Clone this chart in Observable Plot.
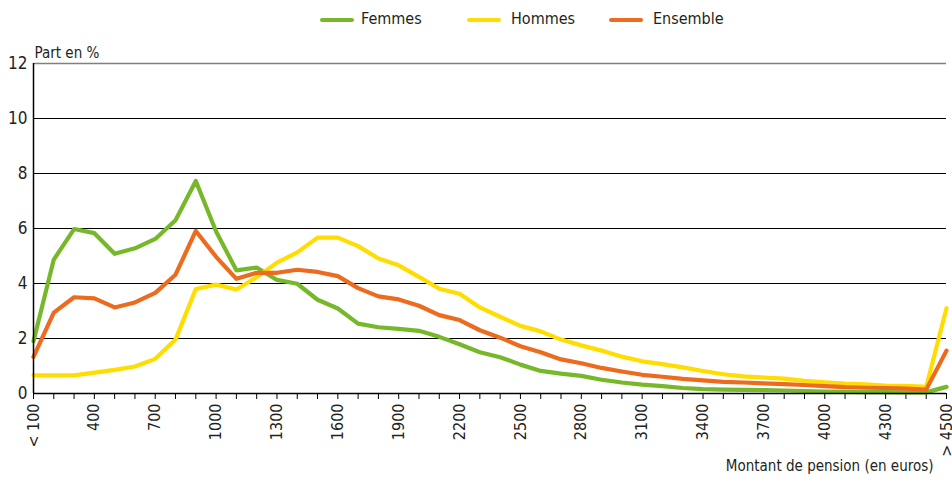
<!DOCTYPE html>
<html>
<head>
<meta charset="utf-8">
<script src="https://cdn.jsdelivr.net/npm/d3@7"></script>
<script src="https://cdn.jsdelivr.net/npm/@observablehq/plot@0.6"></script>
<style>
  body { margin: 0; background: #fff; font-family: 'DejaVu Sans Condensed', 'DejaVu Sans', sans-serif; font-stretch: condensed; color: #231f20; }
  #wrap { position: relative; width: 952px; height: 481px; }
  #legend { position: relative; height: 40px; width: 952px; }
  .sw { position: absolute; top: 18px; width: 34px; height: 4px; border-radius: 2px; }
  .lt { position: absolute; top: 9px; font-size: 16px; line-height: 20px; }
  svg text { font-stretch: condensed; }
</style>
</head>
<body>
<div id="wrap">
  <div id="legend"></div>
  <div id="chart"></div>
</div>
<script>
const categories = ["< 100"].concat(d3.range(2, 46).map(i => String(i * 100))).concat(["> 4500"]);
const femmes = [1.90,4.87,5.98,5.83,5.08,5.28,5.62,6.30,7.73,5.89,4.48,4.58,4.13,3.99,3.41,3.09,2.54,2.41,2.35,2.28,2.06,1.79,1.50,1.32,1.05,0.82,0.72,0.64,0.50,0.40,0.32,0.27,0.20,0.16,0.14,0.13,0.12,0.11,0.09,0.07,0.06,0.05,0.05,0.04,0.04,0.24];
const hommes = [0.66,0.66,0.66,0.76,0.86,0.98,1.26,1.96,3.80,3.96,3.78,4.23,4.76,5.13,5.67,5.67,5.36,4.91,4.66,4.24,3.81,3.63,3.13,2.79,2.46,2.26,1.96,1.75,1.56,1.34,1.17,1.07,0.95,0.82,0.70,0.62,0.58,0.54,0.46,0.41,0.36,0.33,0.29,0.28,0.24,3.10];
const ensemble = [1.33,2.94,3.50,3.46,3.13,3.31,3.66,4.32,5.91,4.97,4.17,4.39,4.39,4.50,4.42,4.27,3.83,3.53,3.42,3.19,2.85,2.67,2.30,2.03,1.72,1.50,1.24,1.10,0.93,0.80,0.68,0.61,0.53,0.48,0.42,0.40,0.37,0.34,0.31,0.27,0.23,0.21,0.20,0.18,0.14,1.56];
const seriesNames = ["Femmes", "Hommes", "Ensemble"];
const seriesColors = ["#76b82a", "#ffdd00", "#ec6b1f"];
const yTicks = [0, 2, 4, 6, 8, 10, 12];
const yLabel = "Part en %";
const xLabel = "Montant de pension (en euros)";

const seriesValues = [femmes, hommes, ensemble];
const data = [];
seriesNames.forEach((name, s) => {
  seriesValues[s].forEach((v, i) => data.push({serie: name, idx: i, cat: categories[i], value: v}));
});
const xTicks = categories.map((c, i) => i);

// legend
const legend = document.getElementById("legend");
const legendPos = [[320, 361], [467, 511], [609, 653]];
seriesNames.forEach((name, s) => {
  const sw = document.createElement("div");
  sw.className = "sw";
  sw.style.left = legendPos[s][0] + "px";
  sw.style.background = seriesColors[s];
  legend.appendChild(sw);
  const t = document.createElement("div");
  t.className = "lt";
  t.style.left = legendPos[s][1] + "px";
  t.textContent = name;
  legend.appendChild(t);
});

const chart = Plot.plot({
  width: 952,
  height: 441,
  marginTop: 23,
  marginBottom: 88,
  marginLeft: 33,
  marginRight: 6,
  style: {fontFamily: "'DejaVu Sans Condensed', 'DejaVu Sans', sans-serif", fontSize: "16px", color: "#231f20", background: "#fff", overflow: "visible"},
  x: {type: "linear", domain: [0, categories.length - 1]},
  y: {domain: [0, 12]},
  color: {domain: seriesNames, range: seriesColors},
  marks: [
    Plot.ruleY(yTicks.filter(d => d > 0 && d < 12), {stroke: "#000", strokeWidth: 1.2}),
    Plot.ruleY([12], {stroke: "#808080", strokeWidth: 1.5}),
    Plot.axisY({ticks: yTicks, tickSize: 0, tickPadding: 6, label: null, fontSize: 17}),
    Plot.axisX({ticks: xTicks, tickSize: 6, tickRotate: -90, tickPadding: 4, stroke: "#000",
      tickFormat: i => i % 3 === 0 ? categories[i] : "", label: null, fontSize: 16}),
    Plot.line(data, {x: "idx", y: "value", z: "serie", stroke: "serie", strokeWidth: 4.2, curve: "linear", strokeLinejoin: "round"}),
    Plot.ruleX([0], {y1: 0, y2: 12, stroke: "#000", strokeWidth: 1.5}),
    Plot.ruleY([0], {stroke: "#000", strokeWidth: 1.5}),
    Plot.text([yLabel], {frameAnchor: "top-left", textAnchor: "start", dx: 1, dy: -16, fontSize: 15}),
    Plot.text([xLabel], {frameAnchor: "bottom-right", textAnchor: "end", dx: -13, dy: 77, fontSize: 15})
  ]
});
document.getElementById("chart").appendChild(chart);
</script>
</body>
</html>
